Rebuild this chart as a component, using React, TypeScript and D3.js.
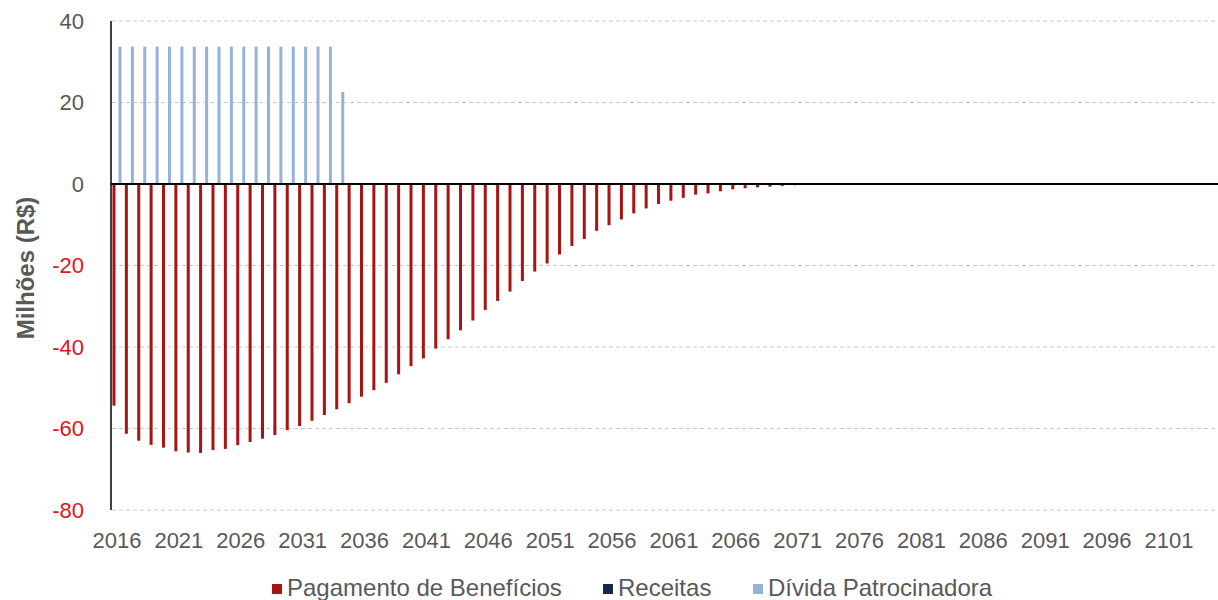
import { useRef, useEffect } from 'react';
import { select, scaleBand, scaleLinear, axisLeft, axisBottom, range } from 'd3';

const years = range(2016, 2106).map(String);
const tickYears = years.filter((_, i) => i % 5 === 0);

// Pagamento de Benefícios (milhões R$), 2016 em diante
const pagamento = [
  -54.4, -61.3, -63.0, -64.0, -64.7, -65.6, -65.9, -66.0, -65.3, -65.0,
  -64.1, -63.3, -62.5, -61.6, -60.4, -59.4, -58.1, -56.7, -55.3, -53.8,
  -52.2, -50.6, -48.8, -46.7, -44.7, -42.8, -40.4, -38.1, -35.9, -33.5,
  -30.9, -28.7, -26.4, -23.8, -21.5, -19.5, -17.3, -15.2, -13.5, -11.5,
  -10.1, -8.7, -7.2, -6.0, -4.9, -4.1, -3.4, -2.6, -2.3, -1.8,
  -1.3, -1.05, -0.8, -0.65, -0.5, -0.3, -0.2, -0.1,
];
const receitas: number[] = [];
const divida = [
  33.7, 33.7, 33.7, 33.7, 33.7, 33.7, 33.7, 33.7, 33.7, 33.7,
  33.7, 33.7, 33.7, 33.7, 33.7, 33.7, 33.7, 33.7, 22.6,
];
const yTicks = [40, 20, 0, -20, -40, -60, -80];
const seriesNames = ['Pagamento de Benefícios', 'Receitas', 'Dívida Patrocinadora'];
const seriesColors = ['#a81414', '#17294a', '#95b3d7'];

export default function App() {
  const svgRef = useRef<SVGSVGElement>(null);

  useEffect(() => {
    if (!svgRef.current) return;
    const svg = select(svgRef.current);
    svg.selectAll('*').remove();

    const width = 1218;
    const height = 600;
    const axisX = 111;
    const step = 12.376;
    const font = "'Liberation Sans', Arial, sans-serif";

    const x0 = scaleBand<string>().domain(years)
      .range([110.8, 110.8 + years.length * step])
      .paddingInner(0.27).paddingOuter(0.135);
    const x1 = scaleBand<number>().domain([0, 1, 2]).range([0, x0.bandwidth()]);
    const y = scaleLinear().domain([-80, 40]).range([510, 21]);

    svg.attr('width', width).attr('height', height);

    // Grid
    svg.append('g').selectAll('line').data(yTicks.filter(t => t !== 0)).join('line')
      .attr('x1', axisX + 1).attr('x2', width)
      .attr('y1', d => y(d)).attr('y2', d => y(d))
      .attr('stroke', '#cacaca').attr('stroke-width', 1).attr('stroke-dasharray', '4,3');

    // Bars
    const series = [pagamento, receitas, divida];
    series.forEach((vals, s) => {
      svg.append('g').selectAll('rect').data(vals).join('rect')
        .attr('x', (_, i) => (x0(years[i]) ?? 0) + (x1(s) ?? 0))
        .attr('width', x1.bandwidth())
        .attr('y', d => y(Math.max(d, 0)))
        .attr('height', d => Math.abs(y(d) - y(0)))
        .attr('fill', seriesColors[s]);
    });

    // Zero line + y axis line
    svg.append('line').attr('x1', axisX).attr('x2', width).attr('y1', y(0)).attr('y2', y(0))
      .attr('stroke', '#000').attr('stroke-width', 2);
    svg.append('line').attr('x1', axisX).attr('x2', axisX).attr('y1', y(40)).attr('y2', y(-80))
      .attr('stroke', '#000').attr('stroke-width', 1.5);

    // Y axis labels
    const yAxis = svg.append('g').attr('transform', `translate(${axisX},0)`)
      .call(axisLeft(y).tickValues(yTicks).tickSize(0).tickPadding(27)
        .tickFormat((d: any) => String(d)) as any);
    yAxis.select('.domain').remove();
    yAxis.selectAll('text')
      .style('font-size', '22px').style('font-family', font)
      .attr('fill', (d: any) => (d < 0 ? '#e0141c' : '#595959'));

    // X axis labels
    const xAxis = svg.append('g').attr('transform', `translate(0,${y(-80)})`)
      .call(axisBottom(x0).tickValues(tickYears).tickSize(0).tickPadding(22) as any);
    xAxis.select('.domain').remove();
    xAxis.selectAll('text')
      .style('font-size', '22px').style('font-family', font).attr('fill', '#595959');

    // Y title
    svg.append('text').attr('transform', 'translate(25,268) rotate(-90)')
      .attr('text-anchor', 'middle').attr('dominant-baseline', 'central')
      .style('font-size', '24px').style('font-weight', 'bold').style('font-family', font)
      .attr('fill', '#595959').text('Milhões (R$)');

    // Legend
    const legendX = [272, 603, 753];
    const legend = svg.append('g');
    seriesNames.forEach((name, s) => {
      legend.append('rect').attr('x', legendX[s]).attr('y', 584).attr('width', 10).attr('height', 10)
        .attr('fill', seriesColors[s]);
      legend.append('text').attr('x', legendX[s] + 15).attr('y', 596)
        .style('font-size', '24px').style('font-family', font).attr('fill', '#595959').text(name);
    });
  }, []);

  return (
    <div style={{ position: 'absolute', left: 0, top: 0, width: 1218, height: 600, background: '#fff' }}>
      <svg ref={svgRef} style={{ display: 'block' }} />
    </div>
  );
}
